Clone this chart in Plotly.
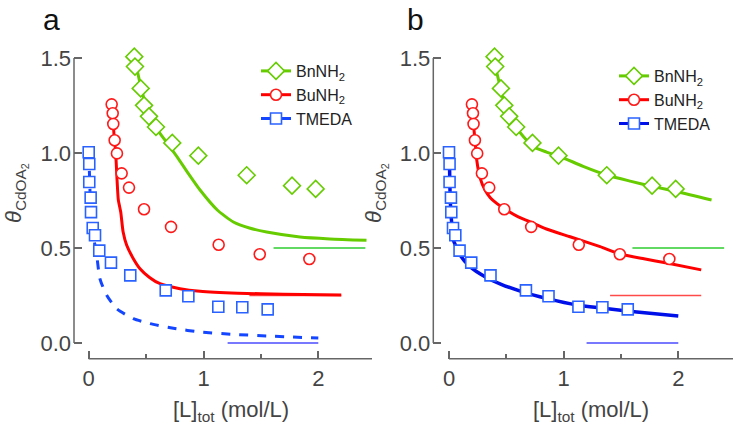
import plotly.graph_objects as go

# ---- measured coverage data ----
L_bn = [0.397, 0.403, 0.453, 0.482, 0.525, 0.586, 0.728, 0.955, 1.376, 1.771, 1.977]
theta_bn = [1.507, 1.455, 1.340, 1.251, 1.193, 1.137, 1.053, 0.986, 0.883, 0.828, 0.811]

L_bu = [0.200, 0.209, 0.214, 0.226, 0.246, 0.287, 0.351, 0.482, 0.717, 1.132, 1.490, 1.922]
theta_bu = [1.256, 1.209, 1.153, 1.067, 0.998, 0.893, 0.818, 0.704, 0.611, 0.517, 0.467, 0.442]

L_tm = [0.000, 0.005, 0.005, 0.017, 0.020, 0.035, 0.055, 0.092, 0.194, 0.362, 0.671, 0.868, 1.129, 1.338, 1.559]
theta_tm = [1.004, 0.942, 0.847, 0.765, 0.689, 0.605, 0.567, 0.486, 0.423, 0.356, 0.277, 0.246, 0.191, 0.188, 0.177]

# ---- model curves, panel a ----
fa_bn_x = [0.40, 0.45, 0.50, 0.59, 0.68, 0.77, 0.87, 0.97, 1.12, 1.26, 1.40, 1.55, 1.84, 2.10, 2.42]
fa_bn_y = [1.50, 1.36, 1.25, 1.13, 1.055, 0.98, 0.89, 0.805, 0.70, 0.637, 0.605, 0.584, 0.558, 0.548, 0.541]

fa_bu_x = [0.200, 0.210, 0.220, 0.235, 0.247, 0.258, 0.279, 0.300, 0.331, 0.389, 0.447, 0.530, 0.621, 0.795, 0.970, 1.30, 1.70, 2.20]
fa_bu_y = [1.25, 1.19, 1.10, 1.00, 0.858, 0.753, 0.689, 0.584, 0.514, 0.444, 0.391, 0.345, 0.312, 0.286, 0.272, 0.262, 0.257, 0.253]

fa_tm_x = [0.000, 0.005, 0.010, 0.017, 0.030, 0.050, 0.070, 0.098, 0.157, 0.244, 0.389, 0.534, 0.750, 0.970, 1.25, 1.55, 2.00]
fa_tm_y = [1.00, 0.92, 0.83, 0.66, 0.60, 0.53, 0.46, 0.338, 0.251, 0.180, 0.128, 0.102, 0.076, 0.058, 0.046, 0.037, 0.026]

# ---- model curves, panel b ----
fb_bn_x = [0.40, 0.416, 0.45, 0.474, 0.52, 0.561, 0.65, 0.736, 0.85, 0.969, 1.17, 1.376, 1.58, 1.783, 2.00, 2.29]
fb_bn_y = [1.50, 1.428, 1.34, 1.279, 1.20, 1.156, 1.085, 1.033, 1.005, 0.981, 0.93, 0.884, 0.852, 0.823, 0.795, 0.753]

fb_bu_x = [0.200, 0.205, 0.215, 0.228, 0.242, 0.270, 0.314, 0.360, 0.416, 0.500, 0.600, 0.707, 0.850, 1.056, 1.318, 1.490, 1.700, 1.900, 2.200]
fb_bu_y = [1.25, 1.20, 1.14, 1.06, 0.963, 0.87, 0.805, 0.765, 0.735, 0.70, 0.665, 0.638, 0.60, 0.559, 0.507, 0.469, 0.443, 0.421, 0.385]

fb_tm_x = [0.000, 0.005, 0.009, 0.015, 0.025, 0.038, 0.060, 0.096, 0.183, 0.314, 0.450, 0.648, 0.850, 1.114, 1.350, 1.638, 2.000]
fb_tm_y = [1.00, 0.92, 0.80, 0.70, 0.62, 0.542, 0.51, 0.463, 0.402, 0.349, 0.31, 0.268, 0.235, 0.200, 0.183, 0.163, 0.142]

# ---- limiting coverage levels (value, x start, x end) ----
lim_a = {"bn": (0.50, 1.61, 2.41), "bu": (0.25, 1.40, 2.20), "tm": (0.00, 1.21, 2.00)}
lim_b = {"bn": (0.50, 1.60, 2.40), "bu": (0.25, 1.405, 2.20), "tm": (0.00, 1.20, 2.00)}

# ---- axis ticks ----
x_ticks = [0, 1, 2]
x_minor = [0.5, 1.5]
y_ticks = [0.0, 0.5, 1.0, 1.5]
y_labels = ["0.0", "0.5", "1.0", "1.5"]

W, H = 733, 424
FONT = "Liberation Sans, Arial, sans-serif"
GREEN, RED = "#66cc00", "#ff1a1a"
SQ_BLUE = "#2a62ff"
AX_GREY = "#666666"

names = {"bn": "BnNH<sub>2</sub>", "bu": "BuNH<sub>2</sub>", "tm": "TMEDA"}
symbols = {"bn": "diamond", "bu": "circle", "tm": "square"}
msize = {"bn": 13, "bu": 11, "tm": 11}
mcol = {"bn": GREEN, "bu": RED, "tm": SQ_BLUE}
pts = {"bn": (L_bn, theta_bn), "bu": (L_bu, theta_bu), "tm": (L_tm, theta_tm)}
lim_col = {"bn": "#2ecc2e", "bu": "#ff4a4a", "tm": "#4b4bff"}

fig = go.Figure()


def hollow(k):
    # white-filled marker with a coloured outline
    return dict(symbol=symbols[k], size=msize[k], color="white",
                line=dict(width=1.6, color=mcol[k]))


def add_panel(xa, ya, fits, fit_style, lims, legend_name):
    # limiting levels
    for k in ("bn", "bu", "tm"):
        v, x0, x1 = lims[k]
        fig.add_trace(go.Scatter(x=[x0, x1], y=[v, v], mode="lines",
                                 line=dict(color=lim_col[k], width=1.6),
                                 xaxis=xa, yaxis=ya, showlegend=False, hoverinfo="skip"))
    # fitted curves
    for k in ("bn", "bu", "tm"):
        fx, fy = fits[k]
        fig.add_trace(go.Scatter(x=fx, y=fy, mode="lines", line_shape="spline",
                                 line=dict(smoothing=0.6, **fit_style[k]),
                                 xaxis=xa, yaxis=ya, showlegend=False))
    # measured points
    for k in ("bn", "bu", "tm"):
        px_, py_ = pts[k]
        fig.add_trace(go.Scatter(x=px_, y=py_, mode="markers", cliponaxis=False,
                                 marker=hollow(k), xaxis=xa, yaxis=ya, showlegend=False))
    # legend keys
    for k in ("bn", "bu", "tm"):
        fig.add_trace(go.Scatter(x=[None], y=[None], mode="lines+markers", name=names[k],
                                 line=dict(color=fit_style[k]["color"], width=3),
                                 marker=hollow(k), xaxis=xa, yaxis=ya, legend=legend_name))


style_a = {"bn": dict(color=GREEN, width=3), "bu": dict(color="#ff0000", width=3),
           "tm": dict(color="#1446ff", width=3, dash="dash")}
style_b = {"bn": dict(color=GREEN, width=3), "bu": dict(color="#ff0000", width=3),
           "tm": dict(color="#0010e8", width=3.5)}

add_panel("x", "y", {"bn": (fa_bn_x, fa_bn_y), "bu": (fa_bu_x, fa_bu_y), "tm": (fa_tm_x, fa_tm_y)},
          style_a, lim_a, "legend")
add_panel("x2", "y2", {"bn": (fb_bn_x, fb_bn_y), "bu": (fb_bu_x, fb_bu_y), "tm": (fb_tm_x, fb_tm_y)},
          style_b, lim_b, "legend2")

# plot-area geometry in pixels
ya_bottom, ya_top = 358.7, 40.0
y_range = [(343 - ya_bottom) / 190.0, (343 - ya_top) / 190.0]
xa_dom = [74 / W, 372 / W]
xa_range = [(74 - 88.7) / 114.8, (372 - 88.7) / 114.8]
xb_dom = [433.3 / W, 1.0]
xb_range = [(433.3 - 449) / 114.65, (733 - 449) / 114.65]
y_dom = [1 - ya_bottom / H, 1 - ya_top / H]

tickfont = dict(family=FONT, size=22, color="#444444")
common_x = dict(tickvals=x_ticks, ticks="inside", ticklen=8, tickwidth=1.5, tickcolor=AX_GREY,
                minor=dict(tickvals=x_minor, ticks="inside", ticklen=5, tickwidth=1.5, tickcolor=AX_GREY),
                showline=False, showgrid=False, zeroline=False, tickfont=tickfont,
                ticklabelstandoff=4)
common_y = dict(tickvals=y_ticks, ticktext=y_labels, ticks="inside", ticklen=8, tickwidth=1.5,
                tickcolor=AX_GREY, showline=False, showgrid=False, zeroline=False,
                tickfont=tickfont, range=y_range, domain=y_dom, ticklabelstandoff=2)

fig.update_layout(
    width=W, height=H, margin=dict(l=0, r=0, t=0, b=0),
    paper_bgcolor="white", plot_bgcolor="white",
    font=dict(family=FONT, color="#222222"),
    xaxis=dict(domain=xa_dom, range=xa_range, anchor="y", **common_x),
    yaxis=dict(anchor="x", **common_y),
    xaxis2=dict(domain=xb_dom, range=xb_range, anchor="y2", **common_x),
    yaxis2=dict(anchor="x2", **common_y),
    legend=dict(x=256 / W, y=1 - 54 / H, xanchor="left", yanchor="top",
                bgcolor="rgba(0,0,0,0)", font=dict(family=FONT, size=16, color="#222222"),
                itemwidth=30, tracegroupgap=0),
    legend2=dict(x=614 / W, y=1 - 59 / H, xanchor="left", yanchor="top",
                 bgcolor="rgba(0,0,0,0)", font=dict(family=FONT, size=16, color="#222222"),
                 itemwidth=30, tracegroupgap=0),
)

# detached axis spines
for xr, yr, xend in (("x", "y", xa_range[1]), ("x2", "y2", xb_range[1])):
    fig.add_shape(type="line", xref=xr, yref=yr + " domain", x0=0, x1=xend, y0=0, y1=0,
                  line=dict(color=AX_GREY, width=1.5))
    fig.add_shape(type="line", xref=xr + " domain", yref=yr, x0=0, x1=0, y0=0, y1=1.5,
                  line=dict(color=AX_GREY, width=1.5))

# panel letters and axis titles
ann = [
    dict(text="a", x=51 / W, y=1 - 20 / H, font=dict(size=30, color="#111111")),
    dict(text="b", x=415 / W, y=1 - 20 / H, font=dict(size=30, color="#111111")),
    dict(text="[L]<sub>tot</sub> (mol/L)", x=231 / W, y=1 - 411 / H, font=dict(size=22, color="#444444")),
    dict(text="[L]<sub>tot</sub> (mol/L)", x=591 / W, y=1 - 411 / H, font=dict(size=22, color="#444444")),
    dict(text="<i>θ</i><sub>CdOA<sub>2</sub></sub>", x=16 / W, y=1 - 193 / H, textangle=-90,
         font=dict(size=22, color="#444444")),
    dict(text="<i>θ</i><sub>CdOA<sub>2</sub></sub>", x=376 / W, y=1 - 193 / H, textangle=-90,
         font=dict(size=22, color="#444444")),
]
for a in ann:
    a.update(xref="paper", yref="paper", showarrow=False, xanchor="center", yanchor="middle")
    a["font"]["family"] = FONT
    fig.add_annotation(**a)

fig.write_html("out.html")
